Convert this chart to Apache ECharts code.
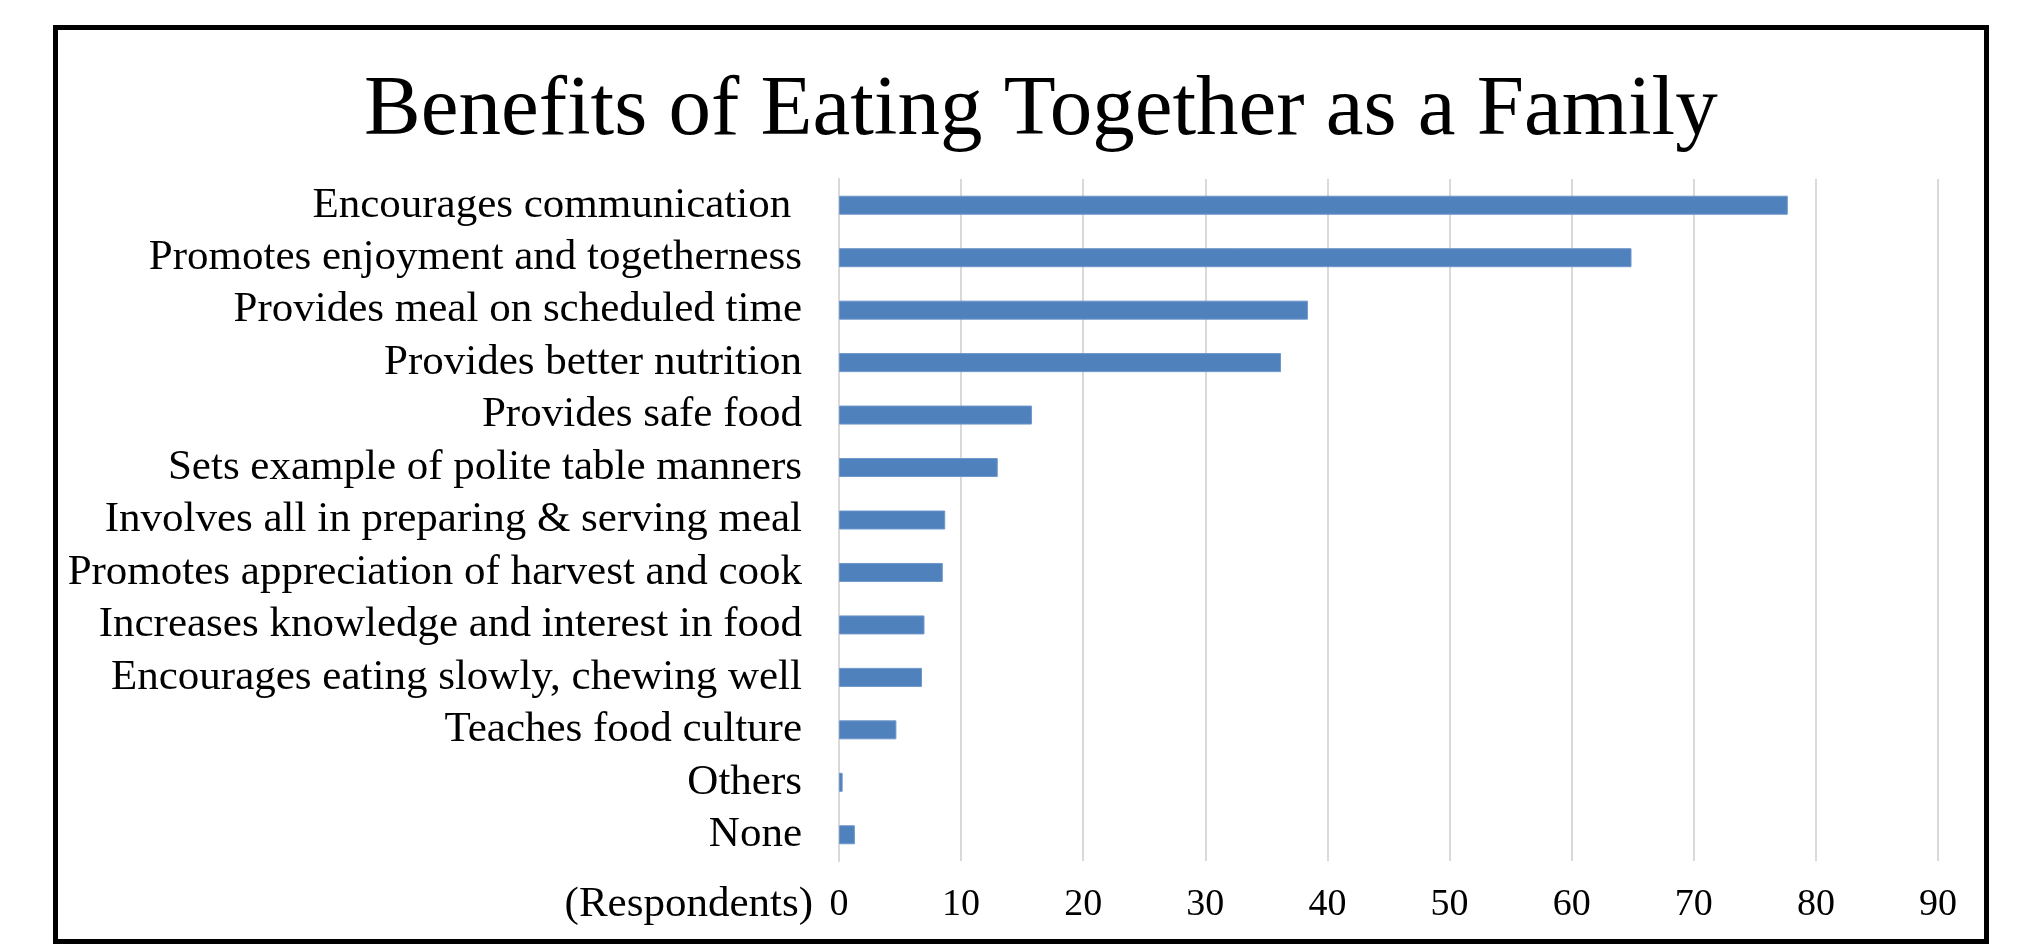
<!DOCTYPE html>
<html>
<head>
<meta charset="utf-8">
<script src="https://cdn.jsdelivr.net/npm/echarts@6/dist/echarts.min.js"></script>
<style>
html,body{margin:0;padding:0;background:#fff;}
#frame{position:absolute;left:53px;top:25px;width:1926px;height:909px;border:5px solid #000;box-sizing:content-box;}
#chart{position:absolute;left:0;top:0;width:2017px;height:946px;}
</style>
</head>
<body>
<div id="frame"></div>
<div id="chart"></div>
<script>
var categories = [
  "Encourages communication ",
  "Promotes enjoyment and togetherness",
  "Provides meal on scheduled time",
  "Provides better nutrition",
  "Provides safe food",
  "Sets example of polite table manners",
  "Involves all in preparing & serving meal",
  "Promotes appreciation of harvest and cook",
  "Increases knowledge and interest in food",
  "Encourages eating slowly, chewing well",
  "Teaches food culture",
  "Others",
  "None"
];
var respondents = [77.7, 64.9, 38.4, 36.2, 15.8, 13.0, 8.7, 8.5, 7.0, 6.8, 4.7, 0.3, 1.3];
var xTicks = [0, 10, 20, 30, 40, 50, 60, 70, 80, 90];
var titleText = "Benefits of Eating Together as a Family";
var unitText = "(Respondents)";

var font = "'Liberation Serif','Times New Roman',serif";
var chart = echarts.init(document.getElementById('chart'), null, {renderer:'canvas'});
chart.setOption({
  animation: false,
  backgroundColor: 'transparent',
  title: {
    text: titleText,
    left: 359,
    top: 64,
    textStyle: {fontFamily: font, fontSize: 85, fontWeight: 'normal', color: '#000'}
  },
  grid: {left: 839, right: 79, top: 179, bottom: 85, containLabel: false},
  xAxis: {
    type: 'value',
    min: xTicks[0],
    max: xTicks[xTicks.length - 1],
    interval: 10,
    axisLine: {show: false},
    axisTick: {show: false},
    splitLine: {show: true, lineStyle: {color: '#d9d9d9', width: 2}},
    axisLabel: {fontFamily: font, fontSize: 38, color: '#000', margin: 25}
  },
  yAxis: {
    type: 'category',
    data: categories,
    inverse: true,
    axisLine: {show: true, lineStyle: {color: '#d9d9d9', width: 2}},
    axisTick: {show: false},
    axisLabel: {interval: 0, hideOverlap: false, fontFamily: font, fontSize: 43, color: '#000', margin: 37}
  },
  graphic: [{
    type: 'text',
    style: {x: 813, y: 905, text: unitText, font: '43px ' + font, fill: '#000', textAlign: 'right', textVerticalAlign: 'middle'}
  }],
  series: [{
    type: 'bar',
    data: respondents,
    barWidth: 19,
    itemStyle: {color: '#4f81bd', borderColor: '#6f96cc', borderWidth: 1}
  }]
});
</script>
</body>
</html>
